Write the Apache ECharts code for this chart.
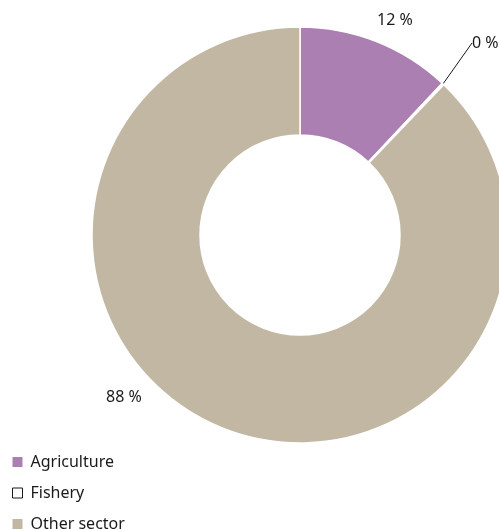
<!DOCTYPE html>
<html>
<head>
<meta charset="utf-8">
<script src="https://cdn.jsdelivr.net/npm/echarts@6/dist/echarts.min.js"></script>
<style>
  html, body { margin: 0; padding: 0; background: #fff; }
  #chart { width: 499px; height: 530px; }
</style>
</head>
<body>
<div id="chart"></div>
<script>
// Share of employment by sector (percent)
const sectors = ['Agriculture', 'Fishery', 'Other sector'];
const shares = [12, 0, 88];
const sliceColors = ['#ac7fb2', '#ffffff', '#c2b7a2'];

const FONT = '"Noto Sans", "Liberation Sans", sans-serif';

const chart = echarts.init(document.getElementById('chart'), null, { renderer: 'canvas' });

// Per-slice label anchors around the ring
const labelSpots = [
  { x: 395, y: 20, align: 'center', verticalAlign: 'middle' },
  { x: 472, y: 43, align: 'left', verticalAlign: 'middle' },
  { x: 124, y: 397, align: 'center', verticalAlign: 'middle' }
];

chart.setOption({
  animation: false,
  backgroundColor: '#ffffff',
  legend: {
    orient: 'vertical',
    left: 12,
    top: 454,
    height: 120,
    padding: 0,
    itemWidth: 10,
    itemHeight: 10,
    itemGap: 15,
    icon: 'rect',
    textStyle: { fontFamily: FONT, fontSize: 16, color: '#1a1a1a', padding: [0, 0, 0, 3] },
    data: sectors.map((name, i) => ({
      name,
      itemStyle: i === 1
        ? { color: '#ffffff', borderColor: '#1a1a1a', borderWidth: 1 }
        : { color: sliceColors[i], borderWidth: 0 }
    }))
  },
  series: [{
    type: 'pie',
    center: [300, 235],
    radius: [100, 208],
    startAngle: 90,
    clockwise: true,
    minAngle: 0.6,
    avoidLabelOverlap: false,
    itemStyle: { borderColor: '#ffffff', borderWidth: 1.5 },
    label: {
      show: true,
      position: 'outside',
      fontFamily: FONT,
      fontSize: 16,
      color: '#1a1a1a',
      formatter: p => p.value + ' %'
    },
    labelLine: { show: false },
    labelLayout: p => labelSpots[p.dataIndex],
    data: sectors.map((name, i) => ({
      name,
      value: shares[i],
      itemStyle: { color: sliceColors[i] },
      labelLine: i === 1
        ? { show: true, length: 36, length2: 0, lineStyle: { color: '#1a1a1a', width: 1 } }
        : { show: false }
    }))
  }]
});
</script>
</body>
</html>
